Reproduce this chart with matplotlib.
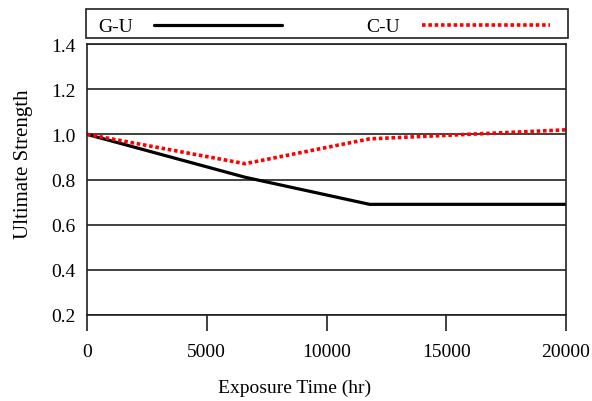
import matplotlib
matplotlib.use("Agg")
import matplotlib.pyplot as plt
from matplotlib.patches import Rectangle

# Data
gu_time = [0, 6600, 11800, 20000]
gu_strength = [1.0, 0.81, 0.69, 0.69]
cu_time = [0, 6600, 11800, 20000]
cu_strength = [1.0, 0.87, 0.98, 1.02]
x_ticks = [0, 5000, 10000, 15000, 20000]
y_ticks = [0.2, 0.4, 0.6, 0.8, 1.0, 1.2, 1.4]

plt.rcParams['font.family'] = ['Liberation Serif', 'DejaVu Serif']

W, H = 592, 402
fig = plt.figure(figsize=(W / 100, H / 100), dpi=100)
ax = fig.add_axes([87 / W, 1 - 316 / H, (566 - 87) / W, (316 - 45) / H])

ax.plot(gu_time, gu_strength, color='black', lw=2.3, label='G-U', solid_capstyle='round')
ax.plot(cu_time, cu_strength, color='#ff0000', lw=2.6, linestyle=(0, (1, 0.75)), label='C-U')

ax.set_xlim(0, 20000)
ax.set_ylim(0.2, 1.4)
ax.set_xticks(x_ticks)
ax.set_xticklabels([str(v) for v in x_ticks])
ax.set_yticks(y_ticks)
ax.set_yticklabels([f"{v:.1f}" for v in y_ticks])
ax.yaxis.grid(True, color='#202020', lw=1.2)
ax.set_axisbelow(True)
ax.tick_params(axis='x', direction='out', length=11.5, width=1.2, labelsize=14, pad=9, color='#202020')
ax.tick_params(axis='y', length=0, labelsize=14, pad=8)
for s in ax.spines.values():
    s.set_linewidth(1.2)
    s.set_color('#202020')

ax.set_xlabel('Exposure Time (hr)', fontsize=14)
ax.xaxis.set_label_coords(0.434, -0.236)
ax.set_ylabel('Ultimate Strength', fontsize=15)
ax.yaxis.set_label_coords(-0.113, 0.559)

# legend frame
fig.add_artist(Rectangle((86 / W, 1 - 39 / H), (568 - 86) / W, 29 / H, transform=fig.transFigure,
                         fill=False, lw=1.2, edgecolor='#202020'))
leg = ax.legend(loc='center', bbox_to_anchor=(98 / W, 1 - 27.5 / H, (550 - 98) / W, 0),
                bbox_transform=fig.transFigure, mode='expand',
                ncol=2, markerfirst=False, handlelength=6.6, fontsize=14, frameon=False,
                borderaxespad=0, borderpad=0, handletextpad=1.1)

fig.savefig('out.png', dpi=100)
